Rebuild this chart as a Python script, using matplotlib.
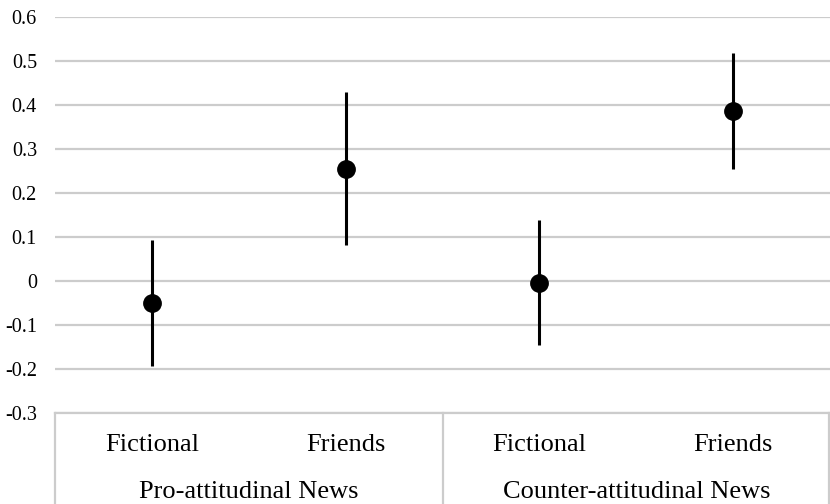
import matplotlib as mpl
mpl.use('Agg')
import matplotlib.pyplot as plt
import numpy as np

plt.rcParams['font.family'] = ['Liberation Serif', 'DejaVu Serif']

# estimates with lower / upper interval bounds
categories = ['Fictional', 'Friends', 'Fictional', 'Friends']
groups = ['Pro-attitudinal News', 'Counter-attitudinal News']
means = [-0.05, 0.255, -0.005, 0.386]
lower = [-0.193, 0.082, -0.145, 0.255]
upper = [0.093, 0.43, 0.139, 0.518]
yticks = [-0.3, -0.2, -0.1, 0, 0.1, 0.2, 0.3, 0.4, 0.5, 0.6]
ytick_labels = ['-0.3', '-0.2', '-0.1', '0', '0.1', '0.2', '0.3', '0.4', '0.5', '0.6']

W, H = 830, 504
fig = plt.figure(figsize=(W / 100, H / 100), dpi=100)
left, right, top, bottom = 55, 830, 17, 413
ax = fig.add_axes([left / W, 1 - bottom / H, (right - left) / W, (bottom - top) / H])

x = np.arange(len(means))
ax.set_xlim(-0.5, len(means) - 0.5)
ax.set_ylim(-0.3, 0.6)

means = np.array(means)
yerr = [means - np.array(lower), np.array(upper) - means]
ax.errorbar(x, means, yerr=yerr, fmt='o', color='black', ms=12.5,
            elinewidth=2.2, capsize=0, zorder=3)

ax.set_yticks(yticks)
ax.set_yticklabels(ytick_labels)
ax.tick_params(axis='y', length=0, pad=13, labelsize=14.5)
ax.set_xticks([])
ax.yaxis.grid(True, color='#cccccc', lw=1.6)
ax.set_axisbelow(True)
for s in ['top', 'right', 'left', 'bottom']:
    ax.spines[s].set_visible(False)

# category axis drawn as a table below the plot
line_kw = dict(color='#cccccc', lw=1.6, transform=fig.transFigure, clip_on=False)
fig.add_artist(plt.Line2D([left / W, right / W], [1 - bottom / H] * 2, **line_kw))
for px in [left, 443, right - 1]:
    fig.add_artist(plt.Line2D([px / W] * 2, [0, 1 - bottom / H], **line_kw))

trans = ax.get_xaxis_transform()
for xi, c in zip(x, categories):
    ax.text(xi, -0.081, c, transform=trans, ha='center', va='center', fontsize=19)
for gi, g in enumerate(groups):
    ax.text(2 * gi + 0.5, -0.2, g, transform=trans, ha='center', va='center', fontsize=19)

plt.savefig('out.png', dpi=100)
